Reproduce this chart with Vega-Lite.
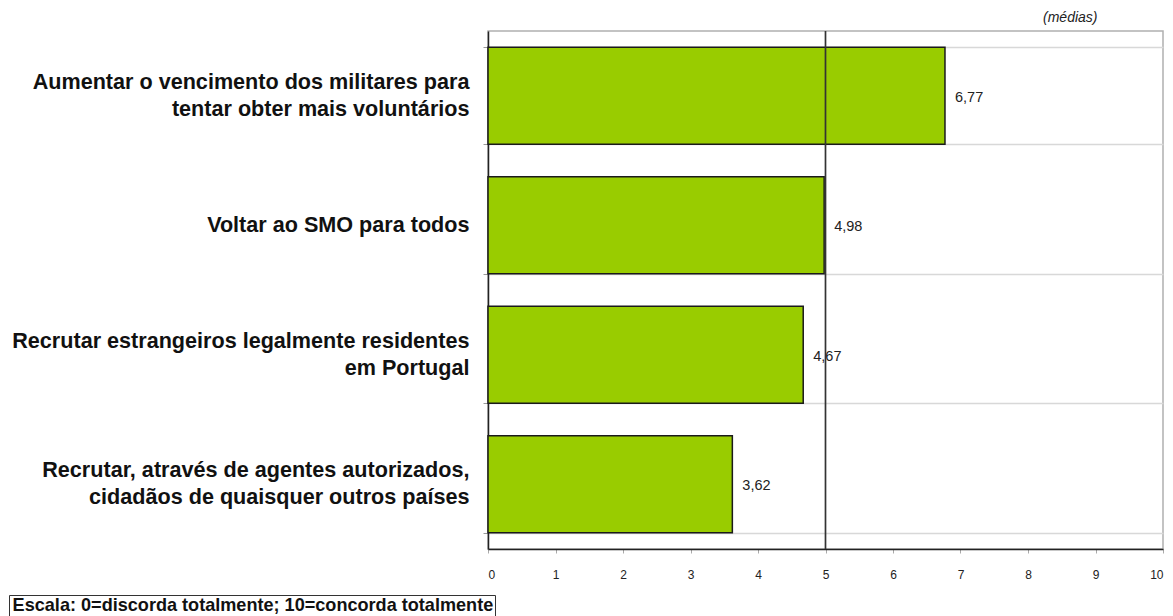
{
  "$schema": "https://vega.github.io/schema/vega-lite/v6.json",
  "width": 675,
  "height": 518,
  "padding": {"left": 8, "top": 11, "right": 11, "bottom": 0},
  "config": {
    "font": "Liberation Sans",
    "view": {"stroke": "#b0b0b0", "strokeWidth": 1.5},
    "locale": {"number": {"decimal": ",", "thousands": ".", "grouping": [3], "currency": ["", " €"]}}
  },
  "title": {
    "text": "(médias)",
    "anchor": "end",
    "fontStyle": "italic",
    "fontWeight": "normal",
    "fontSize": 14,
    "color": "#222",
    "dx": -66,
    "offset": -5
  },
  "data": {
    "values": [
      {"item": "Aumentar o vencimento dos militares para|tentar obter mais voluntários", "value": 6.77},
      {"item": "Voltar ao SMO para todos", "value": 4.98},
      {"item": "Recrutar estrangeiros legalmente residentes|em Portugal", "value": 4.67},
      {"item": "Recrutar, através de agentes autorizados,|cidadãos de quaisquer outros países", "value": 3.62}
    ]
  },
  "layer": [
    {
      "mark": {"type": "bar", "color": "#99cc00", "stroke": "#1a1a1a", "strokeWidth": 1.5},
      "encoding": {
        "y": {
          "field": "item",
          "type": "nominal",
          "sort": null,
          "scale": {"paddingInner": 0.25, "paddingOuter": 0.125},
          "axis": {
            "title": null,
            "labelExpr": "indexof(datum.label, '|') >= 0 ? [split(datum.label, '|')[0], '\u200b', split(datum.label, '|')[1]] : ['', datum.label]",
            "labelFontSize": 21.6,
            "labelFontWeight": "bold",
            "labelColor": "#111",
            "labelLineHeight": 13.5,
            "labelOffset": -13.5,
            "labelPadding": 14,
            "labelLimit": 600,
            "tickBand": "extent",
            "tickSize": 5,
            "tickColor": "#999",
            "domainColor": "#222",
            "domainWidth": 1.5,
            "grid": true,
            "gridColor": "#d8d8d8",
            "gridWidth": 1.5
          }
        },
        "x": {
          "field": "value",
          "type": "quantitative",
          "scale": {"domain": [0, 10], "nice": false},
          "axis": {
            "title": null,
            "values": [0, 1, 2, 3, 4, 5, 6, 7, 8, 9, 10],
            "format": "d",
            "grid": false,
            "labelFontSize": 12,
            "labelColor": "#222",
            "labelPadding": 16,
            "tickSize": 4,
            "tickColor": "#aaa",
            "domainColor": "#222",
            "domainWidth": 1.5
          }
        }
      }
    },
    {
      "mark": {"type": "text", "align": "left", "dx": 10, "dy": 2, "fontSize": 14.5, "color": "#222"},
      "encoding": {
        "y": {"field": "item", "type": "nominal", "sort": null},
        "x": {"field": "value", "type": "quantitative"},
        "text": {"field": "value", "type": "quantitative", "format": ".2f"}
      }
    },
    {
      "mark": {"type": "rule", "strokeWidth": 1.2},
      "encoding": {
        "x": {"datum": 5},
        "color": {
          "datum": "Escala: 0=discorda totalmente; 10=concorda totalmente",
          "type": "nominal",
          "scale": {"range": ["#333333"]},
          "legend": {
            "title": null,
            "orient": "none",
            "legendX": -479,
            "legendY": 564,
            "symbolSize": 0,
            "symbolOpacity": 0,
            "symbolStrokeWidth": 0,
            "labelOffset": -16,
            "labelFontSize": 18.1,
            "labelFontWeight": "bold",
            "labelColor": "#111",
            "labelLimit": 700,
            "strokeColor": "#333",
            "padding": 1.5
          }
        }
      }
    }
  ]
}
